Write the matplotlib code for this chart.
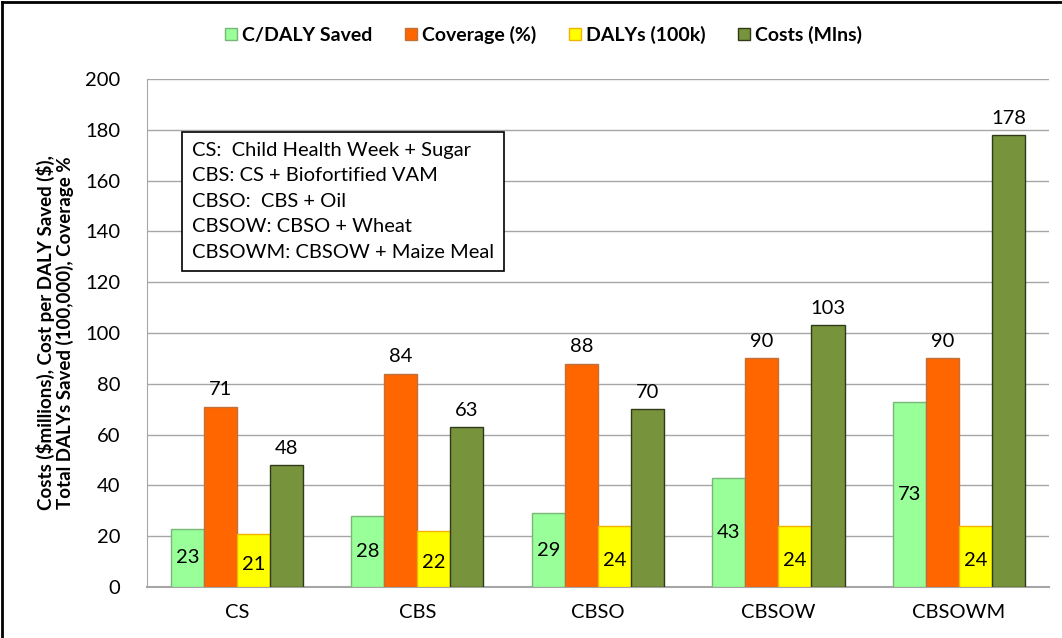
import numpy as np
import matplotlib
matplotlib.use("Agg")
import matplotlib.pyplot as plt
from matplotlib.lines import Line2D

plt.rcParams["font.family"] = ["Lato", "DejaVu Sans"]

# ── Data ──────────────────────────────
categories = ["CS", "CBS", "CBSO", "CBSOW", "CBSOWM"]
cost_per_daly = [23, 28, 29, 43, 73]
coverage = [71, 84, 88, 90, 90]
dalys = [21, 22, 24, 24, 24]
costs = [48, 63, 70, 103, 178]

series_names = ["C/DALY Saved", "Coverage (%)", "DALYs (100k)", "Costs (Mlns)"]
face_colors = ["#99FF99", "#FF6600", "#FFFF00", "#77933C"]
edge_colors = ["#77B777", "#C0703A", "#F0B400", "#2E3A18"]

notes = ["CS:  Child Health Week + Sugar",
         "CBS: CS + Biofortified VAM",
         "CBSO:  CBS + Oil",
         "CBSOW: CBSO + Wheat",
         "CBSOWM: CBSOW + Maize Meal"]

FS = 14.5

fig = plt.figure(figsize=(10.62, 6.38), dpi=100)
ax = fig.add_axes([0.138, 0.08, 0.850, 0.796])

x = np.arange(len(categories))
width = 0.183
all_vals = [cost_per_daly, coverage, dalys, costs]
bars = []
for i, vals in enumerate(all_vals):
    offset = (i - 1.5) * width
    b = ax.bar(x + offset, vals, width, color=face_colors[i],
               edgecolor=edge_colors[i], linewidth=1.0, label=series_names[i],
               zorder=3)
    bars.append(b)

# value labels
for bar, v in zip(bars[0], cost_per_daly):
    ax.text(bar.get_x() + bar.get_width() / 2, v / 2, f"{v}",
            ha="center", va="center", fontsize=FS, zorder=4)
for bar, v in zip(bars[2], dalys):
    ax.text(bar.get_x() + bar.get_width() / 2, v / 2 - 1.5, f"{v}",
            ha="center", va="center", fontsize=FS, zorder=4)
for b in (bars[1], bars[3]):
    for bar in b:
        v = bar.get_height()
        ax.annotate(f"{v:g}", (bar.get_x() + bar.get_width() / 2, v),
                    xytext=(0, 6), textcoords="offset points",
                    ha="center", va="bottom", fontsize=FS, zorder=4)

ax.set_xlim(-0.5, 4.5)
ax.set_ylim(0, 200)
ax.set_yticks(range(0, 201, 20))
ax.set_xticks(x)
ax.set_xticklabels(categories, fontsize=FS)
ax.tick_params(axis="y", labelsize=FS, length=0, pad=19)
ax.tick_params(axis="x", length=0, pad=12)
ax.grid(axis="y", color="#A6A6A6", linewidth=1.0, zorder=0)
for s in ["top", "right"]:
    ax.spines[s].set_visible(False)
ax.spines["left"].set_color("#A6A6A6")
ax.spines["bottom"].set_color("#A6A6A6")
ax.spines["bottom"].set_linewidth(1.5)

ax.set_ylabel("Costs (\\$millions), Cost per DALY Saved (\\$),\nTotal DALYs Saved (100,000), Coverage %",
              fontsize=13.5, fontweight="bold", labelpad=8, linespacing=1.05)

# notes box
ax.text(0.050, 0.876, "\n".join(notes), transform=ax.transAxes,
        ha="left", va="top", fontsize=FS, linespacing=1.6, zorder=5,
        bbox=dict(boxstyle="square,pad=0.5", facecolor="white",
                  edgecolor="black", linewidth=1.2))

leg = fig.legend(handles=[plt.Rectangle((0, 0), 1, 1, facecolor=face_colors[i],
                                         edgecolor=edge_colors[i]) for i in range(4)],
                 labels=series_names, loc="center", bbox_to_anchor=(0.512, 0.945),
                 ncol=4, frameon=False, handlelength=0.6, handleheight=0.6,
                 handletextpad=0.25, columnspacing=1.7,
                 prop={"size": 14, "weight": "bold"})

# figure border (left and top)
fig.add_artist(Line2D([0.002, 0.002], [0, 0.997], transform=fig.transFigure,
                      color="black", linewidth=2))
fig.add_artist(Line2D([0.002, 1.0], [0.997, 0.997], transform=fig.transFigure,
                      color="black", linewidth=2))

plt.savefig("out.png", dpi=100)
plt.close()
